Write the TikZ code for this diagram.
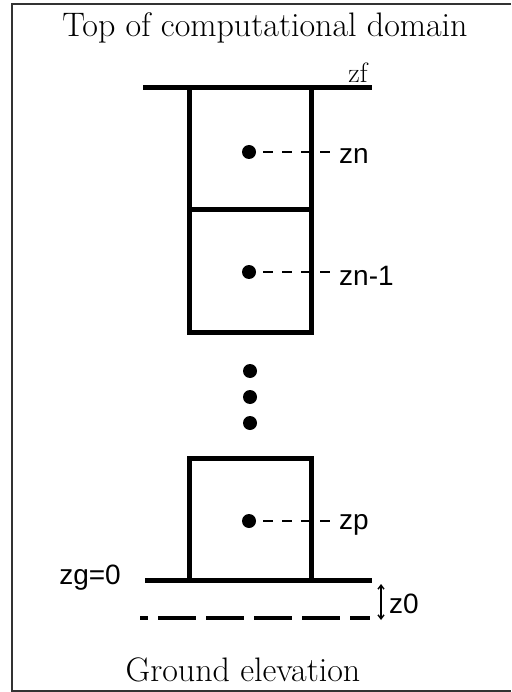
\documentclass[tikz,border=0pt]{standalone}
\usepackage{fontspec}
\newfontfamily\lblfont{Liberation Sans}
\usetikzlibrary{arrows.meta}
\begin{document}
\begin{tikzpicture}[x=1pt,y=-1pt,
  cell/.style={draw, line width=5pt, minimum width=122pt, minimum height=122pt, inner sep=0pt},
  pt/.style={circle, fill, inner sep=0pt, minimum size=14pt},
  lead/.style={line width=1.8pt, dash pattern=on 10pt off 9pt, shorten <=7pt},
  lbl/.style={font=\lblfont\fontsize{28}{30}\selectfont, inner sep=0pt, anchor=west},
  ttl/.style={font=\fontsize{34}{40}\selectfont, inner sep=0pt},
  bar/.style={line width=5pt}]
\useasboundingbox (0,0) rectangle (511,692);
\draw[line width=1.3pt, black!80] (511,4) -- (12,4) -- (12,691) -- (511,691);
\node[ttl] (title) at (265,28) {Top of computational domain};
\node[cell] (cn) at (250,149) {};
\node[cell] (cn1) at (250,271) {};
\node[cell] (cp) at (250,519) {};
\coordinate (zfL) at (143,88);
\coordinate (zfR) at (372,88);
\draw[bar] (zfL) -- (zfR);
\node[inner sep=0pt, anchor=base, font=\fontsize{28}{30}\selectfont] (zf) at (358,83) {zf};
\node[pt] (dn) at (249,152) {};
\node[pt] (dn1) at (249,272) {};
\node[pt] (dp) at (249,521) {};
\coordinate (en) at (331,152);
\coordinate (en1) at (331,272);
\coordinate (ep) at (331,521);
\draw[lead] (dn.east) -- (en);
\draw[lead] (dn1.east) -- (en1);
\draw[lead] (dp.east) -- (ep);
\node[lbl] (zn) at (339,156) {zn};
\node[lbl] (zn1) at (339,276) {zn-1};
\node[lbl] (zp) at (339,525) {zp};
\node[pt] (v1) at (250,371) {};
\node[pt] (v2) at (250,397) {};
\node[pt] (v3) at (250,423) {};
\coordinate (gL) at (145,580);
\coordinate (gR) at (372,580);
\draw[bar] (gL) -- (gR);
\coordinate (dL) at (140,618);
\coordinate (dR) at (370,618);
\draw[line width=4.5pt, dash pattern=on 38pt off 10pt, dash phase=30pt] (dL) -- (dR);
\node[lbl, anchor=east] (zg) at (121,578) {zg=0};
\coordinate (aT) at (381,584);
\coordinate (aB) at (381,620);
\draw[line width=1.4pt, {Straight Barb[length=4pt,width=6pt]}-{Straight Barb[length=4pt,width=6pt]}] (aT) -- (aB);
\node[lbl] (z0) at (389,604) {z0};
\node[ttl] (ground) at (243,670) {Ground elevation};
\end{tikzpicture}
\end{document}
